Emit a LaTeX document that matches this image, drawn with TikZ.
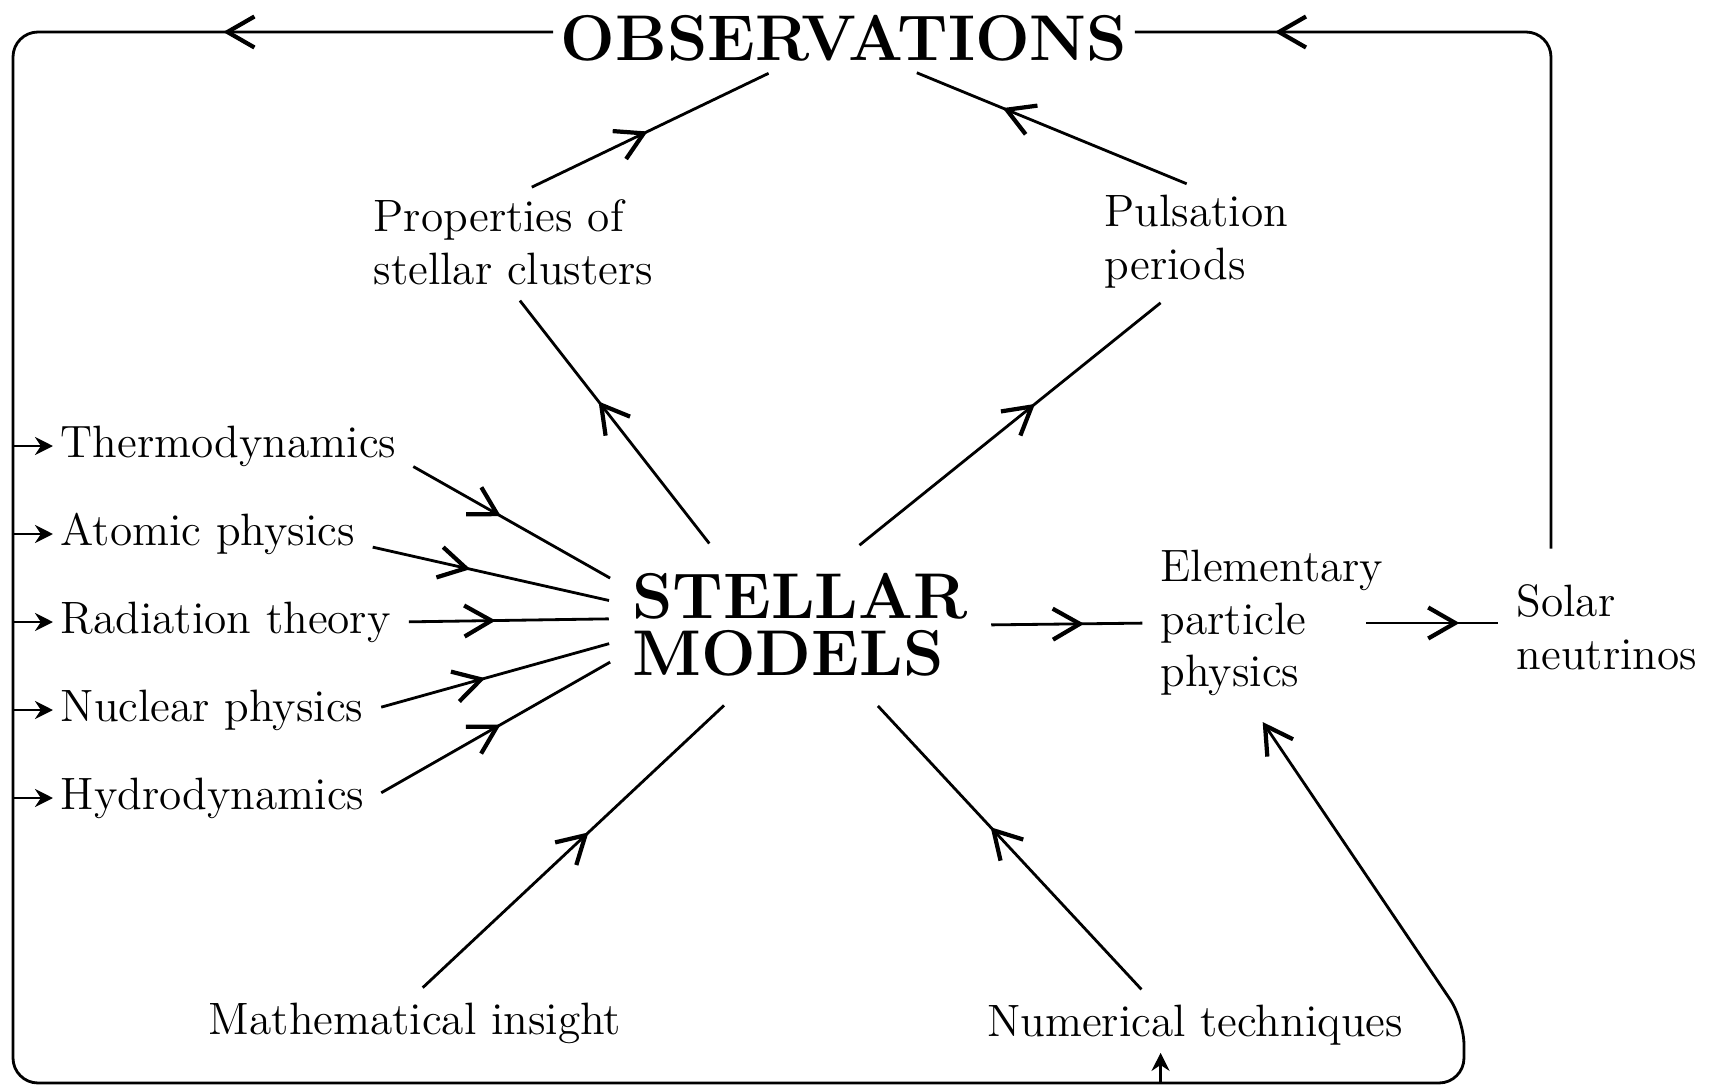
\documentclass[tikz,border=0pt]{standalone}
\usepackage{tikz}
\usetikzlibrary{arrows.meta, decorations.markings}

\begin{document}
\begin{tikzpicture}[
	lbl/.style={font=\fontsize{12.9}{15}\selectfont, inner sep=2pt},
	big/.style={font=\fontsize{18.4}{16.2}\selectfont\bfseries, align=left, inner sep=2pt},
	barb/.tip={Straight Barb[length=2.7mm, width=3.1mm, line width=1.2pt]},
	flow/.style={line width=0.8pt, shorten <=3pt, shorten >=3pt},
	frame/.style={line width=0.8pt},
	mid/.style={postaction={decorate}, decoration={markings, mark=at position #1 with {\arrow{barb}}}},
	feed/.style={line width=0.8pt, -{Stealth[length=1.8mm, width=1.8mm]}},
	]
	\useasboundingbox (0,0) rectangle (17.19,-10.88);

	\node (obs) at (8.44,-0.38) [big] {OBSERVATIONS};
	\node (sm) at (8.00,-6.25) [big, minimum width=3.6cm, minimum height=1.45cm] {STELLAR\\MODELS};

	\node (props) at (3.66,-2.42) [lbl, anchor=west, align=left] {Properties of\\stellar clusters};
	\node (puls) at (10.97,-2.42) [lbl, anchor=west, align=left] {Pulsation\\periods};
	\node (ep) at (11.53,-6.23) [lbl, anchor=west, align=left] {Elementary\\particle\\physics};
	\node (sn) at (15.09,-6.27) [lbl, anchor=west, align=left] {Solar\\neutrinos};

	\node (thermo) at (0.53,-4.46) [lbl, anchor=west] {Thermodynamics};
	\node (atomic) at (0.53,-5.34) [lbl, anchor=west] {Atomic physics};
	\node (radiation) at (0.53,-6.22) [lbl, anchor=west] {Radiation theory};
	\node (nuclear) at (0.53,-7.10) [lbl, anchor=west] {Nuclear physics};
	\node (hydro) at (0.53,-7.98) [lbl, anchor=west] {Hydrodynamics};

	\node (math) at (4.15,-10.23) [lbl] {Mathematical insight};
	\node (num) at (11.95,-10.25) [lbl] {Numerical techniques};

	\coordinate (tl) at (0.13,-0.32);
	\coordinate (bl) at (0.13,-10.83);
	\coordinate (br) at (14.64,-10.83);
	\coordinate (bend) at (14.64,-10.20);
	\coordinate (tr) at (15.51,-0.32);

	\draw[flow, mid=0.45] (thermo.-5) -- (sm.167);
	\draw[flow, mid=0.42] (atomic.-4) -- (sm.173);
	\draw[flow, mid=0.44] (radiation.east) -- (sm.178);
	\draw[flow, mid=0.46] (nuclear.east) -- (sm.185);
	\draw[flow, mid=0.52] (hydro.east) -- (sm.190);

	\draw[flow, mid=0.58] (sm.139) -- (props.south);
	\draw[flow, mid=0.58] (sm.55) -- (puls.243);
	\draw[flow, mid=0.49] (props.80) -- (obs.205);
	\draw[flow, mid=0.67] (puls.north) -- (obs.-26);

	\draw[flow, mid=0.6] (sm.east) -- (ep.west);
	\draw[flow, mid=0.58, shorten <=-0.25cm] (ep.east) -- (ep.east -| sn.west);

	\draw[flow, mid=0.55] (math.north) -- (sm.227);
	\draw[flow, mid=0.57] (num.149) -- (sm.314);

	\draw[frame, rounded corners=0.25cm, mid=3.3cm, -{barb}, shorten >=0.22cm] (obs.west |- tl) -- (tl) -- (bl) -- (br) -- (bend) -- (ep.255);
	\draw[frame, rounded corners=0.25cm, mid=-1.4cm, shorten <=0.28cm] (sn.north -| tr) -- (tr) -- (obs.east |- tr);

	\draw[feed] (thermo.west -| tl) -- (thermo.west);
	\draw[feed] (atomic.west -| tl) -- (atomic.west);
	\draw[feed] (radiation.west -| tl) -- (radiation.west);
	\draw[feed] (nuclear.west -| tl) -- (nuclear.west);
	\draw[feed] (hydro.west -| tl) -- (hydro.west);
	\draw[feed] (num.219 |- bl) -- (num.219);
\end{tikzpicture}
\end{document}
